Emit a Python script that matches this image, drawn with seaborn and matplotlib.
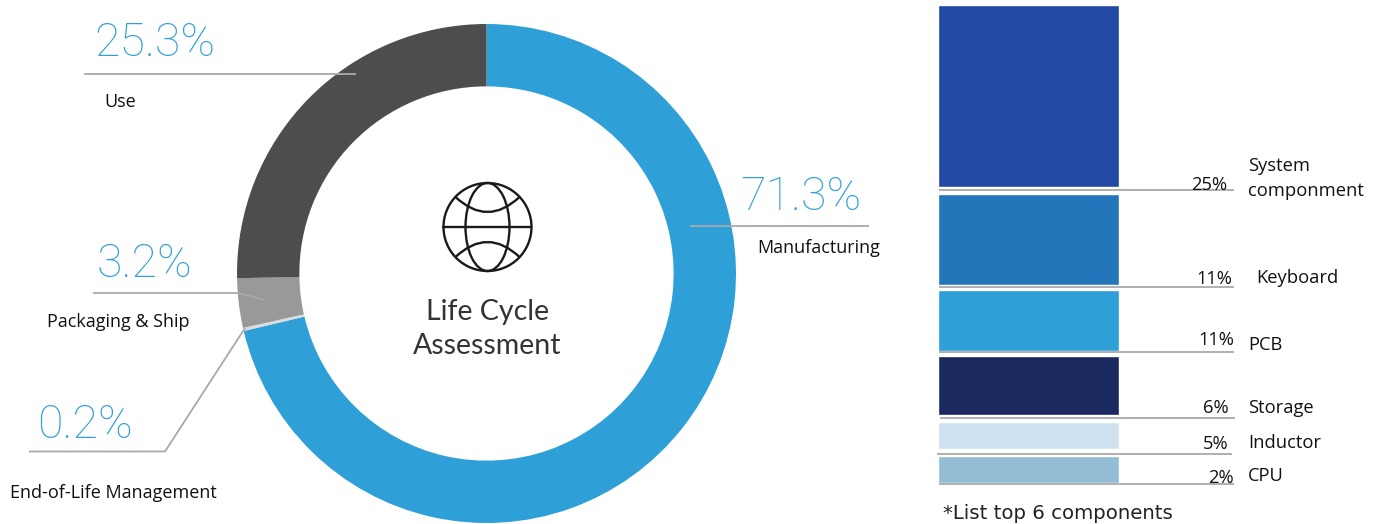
import seaborn as sns
import matplotlib.pyplot as plt
from matplotlib.patches import Circle, Ellipse, PathPatch
from matplotlib.path import Path

W, H = 1381, 524

# donut data
phases = ["Manufacturing", "End-of-Life Management", "Packaging & Ship", "Use"]
shares = [71.3, 0.2, 3.2, 25.3]
share_labels = ["71.3%", "0.2%", "3.2%", "25.3%"]
phase_colors = ["#2f9fd8", "#dcdcdc", "#999999", "#4d4d4d"]

# component data, bar heights are read off the picture (not proportional to the labels)
components = ["System\ncomponment", "Keyboard", "PCB", "Storage", "Inductor", "CPU"]
comp_labels = ["25%", "11%", "11%", "6%", "5%", "2%"]
comp_heights = [182, 91, 61, 59, 27, 27]
comp_gaps = [7, 5, 5, 7, 7, 0]
comp_colors = ["#2249a3", "#2476bb", "#2f9fd8", "#1a2a60", "#cfe2f2", "#93bdd4"]

sns.set_theme(style="white")
plt.rcParams["font.family"] = ["Open Sans", "DejaVu Sans"]

fig = plt.figure(figsize=(W / 100, H / 100), dpi=100, facecolor="white")


def px_axes(left, top, right, bottom, **kw):
    return fig.add_axes([left / W, 1 - bottom / H, (right - left) / W, (bottom - top) / H], **kw)


# donut
ax_pie = px_axes(237, 24, 736, 523)
ax_pie.pie(shares, colors=phase_colors, startangle=90, counterclock=False, radius=1,
           wedgeprops=dict(width=0.25, linewidth=0), normalize=True)
ax_pie.set_xlim(-1, 1)
ax_pie.set_ylim(-1, 1)
ax_pie.axis("off")

# stacked-looking column
ax_bar = px_axes(938, 5, 1119, 483)
bottom = 0
for h, gap, c in zip(comp_heights, comp_gaps, comp_colors):
    sns.barplot(x=[0], y=[h], bottom=bottom, color=c, saturation=1, width=1, errorbar=None, ax=ax_bar)
    bottom += h + gap
ax_bar.set_xlim(-0.5, 0.5)
ax_bar.set_ylim(bottom, 0)
ax_bar.axis("off")

# overlay in pixel coordinates for leaders, text and icon
ov = fig.add_axes([0, 0, 1, 1], facecolor="none")
ov.set_xlim(0, W)
ov.set_ylim(H, 0)
ov.axis("off")

line_c = "#a9a9a9"
leaders = [
    ([84, 356], [74, 74]),
    ([690, 869], [226, 226]),
    ([93, 238, 265], [293, 293, 300]),
    ([29, 165, 245], [451.5, 451.5, 328]),
    ([939, 1234], [190, 190]),
    ([939, 1234], [286.5, 286.5]),
    ([939, 1234], [352, 352]),
    ([940, 1235], [418, 418]),
    ([937, 1232], [453.5, 453.5]),
    ([939, 1234], [484, 484]),
]
for xs, ys in leaders:
    ov.plot(xs, ys, color=line_c, lw=1.3, solid_capstyle="butt", solid_joinstyle="miter")

# big percentages
big_c = "#2f9fd8"
big_pos = [(801, 210), (85, 438), (145, 277), (155, 56)]
for s, (x, y) in zip(share_labels, big_pos):
    ov.text(x, y, s, color=big_c, family="Roboto", weight="light", fontsize=33.5, ha="center", va="baseline")

# phase names
name_pos = [(757, 253), (10, 498), (47, 327), (104, 107)]
for s, (x, y) in zip(phases, name_pos):
    ov.text(x, y, s, color="#111111", fontsize=13, ha="left", va="baseline")

# globe icon and centre title
gx, gy = 487.5, 227
ink = "#1a1a1a"
ov.add_patch(Circle((gx, gy), 44, fill=False, ec=ink, lw=1.7))
ov.add_patch(Ellipse((gx, gy), 44, 88, fill=False, ec=ink, lw=1.7))
ov.plot([gx - 44, gx + 44], [gy, gy], color=ink, lw=1.7)
for sign in (-1, 1):
    arc = Path([(gx - 32, gy + sign * 30), (gx, gy), (gx + 32, gy + sign * 30)],
               [Path.MOVETO, Path.CURVE3, Path.CURVE3])
    ov.add_patch(PathPatch(arc, fill=False, ec=ink, lw=1.7))
ov.text(487.5, 320, "Life Cycle", color="#333333", family="Lato", fontsize=20.5, ha="center", va="baseline")
ov.text(487.5, 354, "Assessment", color="#333333", family="Lato", fontsize=20.5, ha="center", va="baseline")

# component percentages and names
pct_pos = [(1227, 190), (1232, 284), (1234, 345), (1229, 413), (1229, 449), (1234, 483)]
for s, (x, y) in zip(comp_labels, pct_pos):
    ov.text(x, y, s, color="#111111", fontsize=13.2, ha="right", va="baseline")
comp_pos = [(1248, 196), (1256, 283), (1248, 350), (1248, 413), (1248, 448), (1248, 481)]
for s, (x, y) in zip(components, comp_pos):
    ov.text(x, y, s, color="#111111", fontsize=13.2, ha="left", va="baseline", linespacing=1.5)

ov.text(943, 519, "*List top 6 components", color="#222222", family="DejaVu Sans", fontsize=14.2, ha="left", va="baseline")

fig.savefig("out.png", dpi=100)
